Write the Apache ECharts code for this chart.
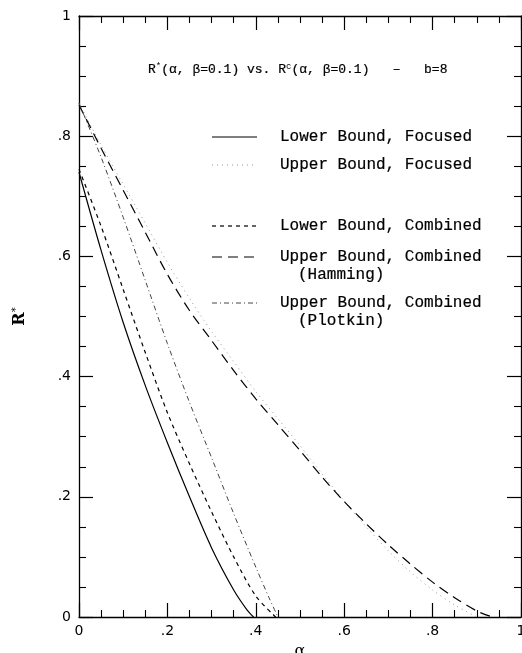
<!DOCTYPE html>
<html><head><meta charset="utf-8">
<script src="https://cdn.jsdelivr.net/npm/echarts@6/dist/echarts.min.js"></script>
<style>html,body{margin:0;padding:0;background:#fff}#c{width:522px;height:653px}</style>
</head><body><div id="c"></div>
<script>
// Lower Bound, Focused (solid)
const alphaLF = [0, 0.05, 0.1, 0.15, 0.2, 0.25, 0.3, 0.35, 0.38, 0.395];
const rLF     = [0.74, 0.61, 0.49, 0.385, 0.29, 0.2, 0.115, 0.045, 0.012, 0];
// Upper Bound, Focused (dotted)
const alphaUF = [0, 0.05, 0.1, 0.15, 0.2, 0.25, 0.3, 0.35, 0.4, 0.45, 0.5, 0.55, 0.6, 0.65, 0.7, 0.75, 0.8, 0.85, 0.9];
const rUF     = [0.855, 0.785, 0.72, 0.655, 0.59, 0.53, 0.475, 0.425, 0.375, 0.33, 0.285, 0.238, 0.193, 0.15, 0.11, 0.075, 0.045, 0.02, 0];
// Lower Bound, Combined (short dash)
const alphaLC = [0, 0.05, 0.1, 0.15, 0.2, 0.25, 0.3, 0.35, 0.4, 0.445];
const rLC     = [0.745, 0.65, 0.545, 0.44, 0.34, 0.255, 0.175, 0.1, 0.035, 0];
// Upper Bound, Combined (Hamming) (long dash)
const alphaUH = [0, 0.05, 0.1, 0.15, 0.2, 0.25, 0.3, 0.35, 0.4, 0.45, 0.5, 0.55, 0.6, 0.65, 0.7, 0.75, 0.8, 0.85, 0.9, 0.935];
const rUH     = [0.852, 0.78, 0.71, 0.64, 0.57, 0.51, 0.46, 0.41, 0.363, 0.32, 0.277, 0.233, 0.192, 0.155, 0.12, 0.088, 0.058, 0.032, 0.01, 0];
// Upper Bound, Combined (Plotkin) (dash-dot)
const alphaUP = [0, 0.05, 0.1, 0.15, 0.2, 0.25, 0.3, 0.35, 0.4, 0.43, 0.45];
const rUP     = [0.855, 0.765, 0.665, 0.56, 0.455, 0.357, 0.265, 0.172, 0.083, 0.032, 0];

const xTicks = [0, 0.2, 0.4, 0.6, 0.8, 1];
const yTicks = [0, 0.2, 0.4, 0.6, 0.8, 1];

const zip = (a, b) => a.map((v, i) => [v, b[i]]);
const fmt = v => (v === 0 ? '0' : v === 1 ? '1' : v.toFixed(1).replace(/^0/, ''));

const chart = echarts.init(document.getElementById('c'));
const axisCommon = {
  type: 'value', min: 0, max: 1, interval: 0.2,
  axisLine: { show: true, onZero: false, lineStyle: { color: '#000', width: 1.3 } },
  axisTick: { show: true, inside: true, length: 14, lineStyle: { color: '#000', width: 1.2 } },
  minorTick: { show: true, splitNumber: 4, length: 7, lineStyle: { color: '#000', width: 1.1 } },
  splitLine: { show: false }, minorSplitLine: { show: false }
};
const txtFont = 'Liberation Mono';
const legendRows = [
  { y: 137, dash: null, color: '#000', w: 1.2, label: 'Lower Bound, Focused' },
  { y: 165, dash: [1, 4], color: '#999', w: 1, label: 'Upper Bound, Focused' },
  { y: 226, dash: [4, 4], color: '#000', w: 1.2, label: 'Lower Bound, Combined' },
  { y: 257, dash: [10, 6], color: '#000', w: 1.2, label: 'Upper Bound, Combined', sub: '(Hamming)' },
  { y: 303, dash: [5, 3, 1, 3], color: '#444', w: 1, label: 'Upper Bound, Combined', sub: '(Plotkin)' }
];
const textStyleBase = { fill: '#000', stroke: '#000', lineWidth: 0.2, textVerticalAlign: 'middle' };
const graphics = [];
legendRows.forEach(r => {
  graphics.push({ type: 'line', shape: { x1: 212, y1: r.y, x2: 257, y2: r.y },
    style: { stroke: r.color, lineWidth: r.w, lineDash: r.dash || null } });
  graphics.push({ type: 'text', x: 280, y: r.y, style: Object.assign({ text: r.label, font: '16px "' + txtFont + '"' }, textStyleBase) });
  if (r.sub) graphics.push({ type: 'text', x: 298, y: r.y + 18, style: Object.assign({ text: r.sub, font: '16px "' + txtFont + '"' }, textStyleBase) });
});
graphics.push({
  type: 'text', x: 148, y: 70,
  style: {
    text: '{n|R}{s|*}{n|(α, β=0.1) vs. R}{s|c}{n|(α, β=0.1)   –   b=8}',
    textVerticalAlign: 'middle',
    rich: {
      n: { fontFamily: txtFont, fontSize: 13, fill: '#000', stroke: '#000', lineWidth: 0.2 },
      s: { fontFamily: txtFont, fontSize: 9, fill: '#000', verticalAlign: 'top', padding: [0, 0, 6, 0] }
    }
  }
});

chart.setOption({
  animation: false,
  backgroundColor: '#fff',
  grid: { left: 79, right: 1, top: 16, bottom: 36, containLabel: false, outerBoundsMode: 'none' },
  xAxis: [
    Object.assign({}, axisCommon, { position: 'bottom',
      axisLabel: { formatter: fmt, color: '#000', fontSize: 14, fontFamily: 'DejaVu Sans', margin: 7 },
      name: 'α', nameLocation: 'middle', nameGap: 27,
      nameTextStyle: { color: '#000', fontSize: 16, fontFamily: 'DejaVu Serif' } }),
    Object.assign({}, axisCommon, { position: 'top', axisLabel: { show: false } })
  ],
  yAxis: [
    Object.assign({}, axisCommon, { position: 'left',
      axisLabel: { formatter: fmt, color: '#000', fontSize: 14, fontFamily: 'DejaVu Sans', margin: 8 },
      name: '{n|R}{s|*}', nameLocation: 'middle', nameGap: 50, nameRotate: 90,
      nameTextStyle: { rich: {
        n: { fontSize: 16, fontFamily: 'DejaVu Serif', color: '#000', fontWeight: 'bold' },
        s: { fontSize: 10, fontFamily: 'DejaVu Sans', color: '#000', verticalAlign: 'top', padding: [0, 0, 8, 0] } } } }),
    Object.assign({}, axisCommon, { position: 'right', axisLabel: { show: false } })
  ],
  series: [
    { name: 'Lower Bound, Focused', type: 'line', data: zip(alphaLF, rLF), smooth: 0.3, symbol: 'none', lineStyle: { color: '#000', width: 1.2 } },
    { name: 'Upper Bound, Focused', type: 'line', data: zip(alphaUF, rUF), smooth: 0.3, symbol: 'none', lineStyle: { color: '#999', width: 1, type: [1, 4] } },
    { name: 'Lower Bound, Combined', type: 'line', data: zip(alphaLC, rLC), smooth: 0.3, symbol: 'none', lineStyle: { color: '#000', width: 1.2, type: [4, 4] } },
    { name: 'Upper Bound, Combined (Hamming)', type: 'line', data: zip(alphaUH, rUH), smooth: 0.3, symbol: 'none', lineStyle: { color: '#000', width: 1.2, type: [10, 6] } },
    { name: 'Upper Bound, Combined (Plotkin)', type: 'line', data: zip(alphaUP, rUP), smooth: 0.3, symbol: 'none', lineStyle: { color: '#444', width: 1, type: [5, 3, 1, 3] } }
  ],
  graphic: graphics
});
</script>
</body></html>
